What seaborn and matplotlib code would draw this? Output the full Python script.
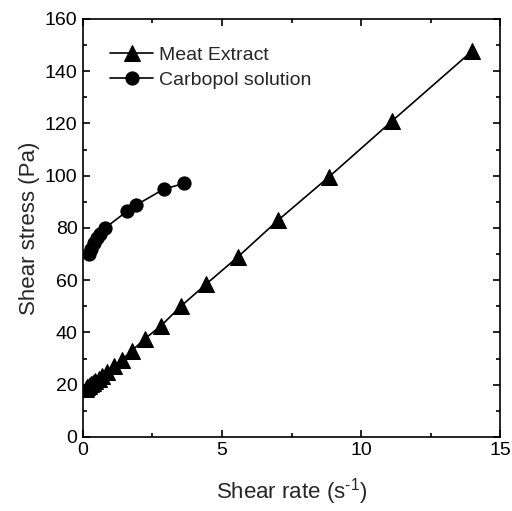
import matplotlib
matplotlib.use("Agg")
import matplotlib.pyplot as plt
import seaborn as sns
import pandas as pd
from matplotlib.ticker import MultipleLocator

meat_rate = [0.10, 0.15, 0.22, 0.28, 0.35, 0.44, 0.56, 0.70, 0.88, 1.11, 1.40, 1.76, 2.22, 2.80, 3.52, 4.43, 5.58, 7.02, 8.84, 11.1, 14.0]
meat_stress = [18.5, 19.0, 19.6, 20.2, 20.8, 21.5, 22.3, 23.5, 25.0, 27.0, 29.5, 33.0, 37.5, 42.5, 50.0, 58.5, 69.0, 83.0, 99.5, 120.8, 147.8]

carb_rate = [0.22, 0.30, 0.40, 0.50, 0.62, 0.80, 1.60, 1.92, 2.90, 3.62]
carb_stress = [70.0, 72.0, 74.3, 76.0, 77.5, 80.0, 86.5, 88.8, 94.8, 97.0]

sns.set_theme(style="ticks")
plt.rcParams['font.family'] = ['Liberation Sans', 'DejaVu Sans']
plt.rcParams['mathtext.fontset'] = 'custom'
plt.rcParams['mathtext.rm'] = 'Liberation Sans'

df = pd.concat([
    pd.DataFrame({"rate": meat_rate, "stress": meat_stress, "series": "Meat Extract"}),
    pd.DataFrame({"rate": carb_rate, "stress": carb_stress, "series": "Carbopol solution"}),
])

fig = plt.figure(figsize=(5.12, 5.11), dpi=100)
ax = fig.add_axes([0.162, 0.145, 0.815, 0.818])

sns.lineplot(data=df[df.series == "Meat Extract"], x="rate", y="stress", ax=ax,
             color="black", marker="^", markersize=11, linewidth=1.2,
             markeredgecolor="black", label="Meat Extract")
sns.lineplot(data=df[df.series == "Carbopol solution"], x="rate", y="stress", ax=ax,
             color="black", marker="o", markersize=9.5, linewidth=1.2,
             markeredgecolor="black", label="Carbopol solution")

ax.set_xlim(0, 15)
ax.set_ylim(0, 160)
ax.xaxis.set_major_locator(MultipleLocator(5))
ax.xaxis.set_minor_locator(MultipleLocator(2.5))
ax.yaxis.set_major_locator(MultipleLocator(20))
ax.yaxis.set_minor_locator(MultipleLocator(10))
ax.tick_params(which="both", direction="in", top=True, right=True, labelsize=14, colors="black")
ax.tick_params(which="major", length=5, width=1.2, pad=4)
ax.tick_params(which="minor", length=3, width=1.2)
for s in ax.spines.values():
    s.set_linewidth(1.2)
    s.set_color("black")
ax.set_xlabel(r"Shear rate (s$^{\text{-1}}$)", fontsize=16, labelpad=12)
ax.set_ylabel("Shear stress (Pa)", fontsize=16, labelpad=3)

leg = ax.legend(loc="upper left", frameon=False, fontsize=14, handlelength=2.2,
                borderaxespad=1.0, handletextpad=0.3, labelspacing=0.4)

fig.savefig("out.png", dpi=100)
